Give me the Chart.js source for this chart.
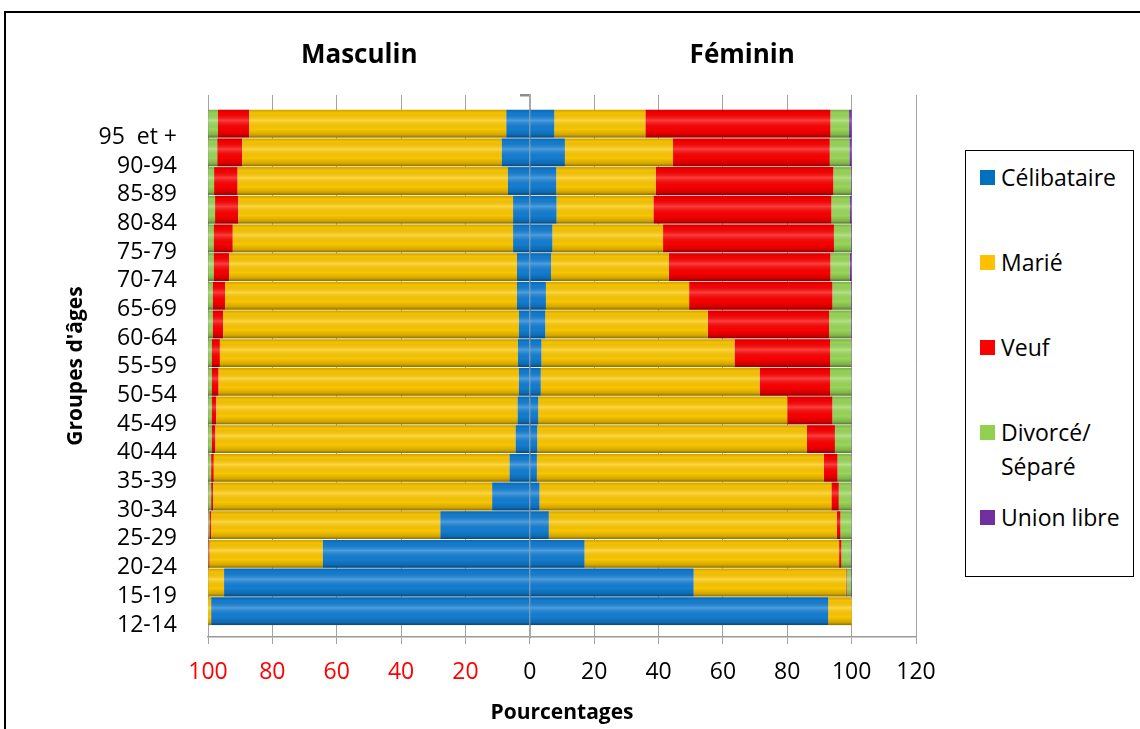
<!DOCTYPE html>
<html lang="fr">
<head>
<meta charset="utf-8">
<title>État matrimonial par groupes d'âges</title>
<script src="https://cdn.jsdelivr.net/npm/chart.js@4.4.1/dist/chart.umd.min.js"></script>
<style>
  html, body { margin: 0; padding: 0; background: #fff; }
  body { width: 1140px; height: 729px; position: relative; overflow: hidden; font-family: 'Open Sans', sans-serif; }
  #frame { position: absolute; left: 4px; top: 11px; width: 1160px; height: 800px; border: 2px solid #000; }
  #chart { position: absolute; left: 0; top: 0; }
  .legend { position: absolute; left: 965px; top: 150px; width: 167px; height: 425px; border: 1.5px solid #000; background: #fff; }
  .item { position: absolute; left: 14px; font-size: 23px; line-height: 34px; color: #000; white-space: nowrap; }
  .item i { position: absolute; left: 0; top: 10px; width: 15px; height: 15px; }
  .item span { display: block; margin-left: 21px; }
</style>
</head>
<body>
<div id="frame"></div>
<canvas id="chart" width="1140" height="729"></canvas>
<div class="legend">
  <div class="item" style="top:9px"><i style="background:#0070C0"></i><span>Célibataire</span></div>
  <div class="item" style="top:94px"><i style="background:#FFC000"></i><span>Marié</span></div>
  <div class="item" style="top:179px"><i style="background:#FF0000"></i><span>Veuf</span></div>
  <div class="item" style="top:264px"><i style="background:#92D050"></i><span>Divorcé/<br>Séparé</span></div>
  <div class="item" style="top:349px"><i style="background:#7030A0"></i><span>Union libre</span></div>
</div>
<script>
// groupes d'âges, du haut vers le bas
const ageGroups = ['95  et +', '90-94', '85-89', '80-84', '75-79', '70-74', '65-69', '60-64', '55-59',
  '50-54', '45-49', '40-44', '35-39', '30-34', '25-29', '20-24', '15-19', '12-14'];

const statusNames = ['Célibataire', 'Marié', 'Veuf', 'Divorcé/ Séparé', 'Union libre'];
const statusColors = ['#1380D6', '#FFCA00', '#FF0000', '#9CDA5A', '#7A38B0'];

// Masculin (%)
const maleCelib = [7.3, 8.7, 6.8, 5.2, 5.2, 4.0, 4.0, 3.4, 3.7, 3.4, 3.8, 4.4, 6.3, 11.7, 27.8, 64.3, 95.0, 99.0];
const maleMarie = [79.9, 80.7, 84.0, 85.4, 87.1, 89.4, 90.7, 91.9, 92.6, 93.3, 93.6, 93.3, 91.9, 86.7, 71.2, 35.2, 4.9, 1.0];
const maleVeuf = [9.7, 7.7, 7.3, 7.2, 5.9, 4.8, 3.8, 3.2, 2.5, 2.1, 1.4, 1.1, 0.8, 0.6, 0.5, 0.3, 0.05, 0];
const maleDiv = [3.0, 2.8, 1.8, 2.1, 1.7, 1.7, 1.4, 1.4, 1.1, 1.1, 1.1, 1.1, 0.9, 0.9, 0.4, 0.15, 0.03, 0];
const maleUnion = [0.1, 0.1, 0.1, 0.1, 0.1, 0.1, 0.1, 0.1, 0.1, 0.1, 0.1, 0.1, 0.1, 0.1, 0.1, 0.05, 0.02, 0];

// Féminin (%)
const femCelib = [7.6, 10.9, 8.2, 8.3, 7.0, 6.6, 5.0, 4.8, 3.6, 3.4, 2.6, 2.3, 2.2, 3.0, 5.9, 17.0, 50.9, 92.7];
const femMarie = [28.3, 33.6, 30.9, 30.1, 34.4, 36.6, 44.5, 50.5, 60.0, 68.0, 77.4, 83.8, 89.2, 90.7, 89.5, 79.1, 47.3, 7.3];
const femVeuf = [57.5, 48.7, 55.2, 55.3, 53.1, 50.2, 44.5, 37.7, 29.7, 21.9, 14.0, 8.7, 4.2, 2.3, 1.1, 0.7, 0.2, 0];
const femDiv = [5.8, 6.1, 5.5, 5.8, 5.3, 6.0, 5.8, 6.8, 6.6, 6.6, 5.9, 5.1, 4.3, 3.9, 3.4, 3.0, 1.4, 0];
const femUnion = [0.8, 0.7, 0.2, 0.5, 0.2, 0.6, 0.2, 0.2, 0.1, 0.1, 0.1, 0.1, 0.1, 0.1, 0.1, 0.2, 0.2, 0];

const xTicks = [-100, -80, -60, -40, -20, 0, 20, 40, 60, 80, 100, 120];

const maleValues = [maleCelib, maleMarie, maleVeuf, maleDiv, maleUnion];
const femValues = [femCelib, femMarie, femVeuf, femDiv, femUnion];

const datasets = [];
statusNames.forEach(function (name, s) {
    datasets.push({
        label: name + ' - Masculin',
        data: maleValues[s].map((v, i) => ({x: -v, y: i})),
        backgroundColor: statusColors[s],
        xAxisID: 'x',
        yAxisID: 'y'
    });
    datasets.push({
        label: name + ' - Féminin',
        data: femValues[s].map((v, i) => ({x: v, y: i})),
        backgroundColor: statusColors[s],
        xAxisID: 'x',
        yAxisID: 'y'
    });
});

// relief des barres (dégradé vertical comme dans Excel)
const barShade = {
    id: 'barShade',
    afterDatasetsDraw(chart) {
        const ctx = chart.ctx;
        ctx.save();
        chart.data.datasets.forEach(function (ds, di) {
            chart.getDatasetMeta(di).data.forEach(function (bar) {
                const p = bar.getProps(['x', 'y', 'base', 'height'], true);
                const w = Math.abs(p.x - p.base);
                if (w < 0.3) return;
                const top = p.y - p.height / 2;
                const g = ctx.createLinearGradient(0, top, 0, top + p.height);
                g.addColorStop(0, 'rgba(0,0,0,0.2)');
                g.addColorStop(0.12, 'rgba(0,0,0,0.04)');
                g.addColorStop(0.38, 'rgba(255,255,255,0.24)');
                g.addColorStop(0.7, 'rgba(0,0,0,0.02)');
                g.addColorStop(0.9, 'rgba(0,0,0,0.18)');
                g.addColorStop(1, 'rgba(0,0,0,0.45)');
                ctx.fillStyle = g;
                ctx.fillRect(Math.min(p.x, p.base), top, w, p.height);
            });
        });
        ctx.restore();
    }
};

const sideTitles = {
    id: 'sideTitles',
    afterDraw(chart) {
        const ctx = chart.ctx;
        const x = chart.scales.x;
        ctx.save();
        ctx.font = "bold 26px 'Open Sans'";
        ctx.fillStyle = '#000';
        ctx.textAlign = 'center';
        ctx.textBaseline = 'alphabetic';
        ctx.fillText('Masculin', x.getPixelForValue(-53), 63);
        ctx.fillText('Féminin', x.getPixelForValue(66), 63);
        ctx.restore();
    }
};

Chart.defaults.font.family = "'Open Sans', sans-serif";
Chart.defaults.color = '#000';

new Chart(document.getElementById('chart'), {
    type: 'bar',
    data: {datasets: datasets},
    plugins: [barShade, sideTitles],
    options: {
        indexAxis: 'y',
        responsive: false,
        animation: false,
        layout: {padding: {left: 60, top: 95, right: 224, bottom: 0}},
        datasets: {bar: {categoryPercentage: 0.97, barPercentage: 1}},
        plugins: {legend: {display: false}, tooltip: {enabled: false}},
        scales: {
            x: {
                type: 'linear',
                stacked: true,
                min: -100,
                max: 120,
                offset: false,
                afterBuildTicks: function (scale) {
                    scale.ticks = xTicks.map(v => ({value: v}));
                },
                ticks: {
                    callback: v => Math.abs(v),
                    color: c => c.tick.value < 0 ? '#FF0000' : '#000',
                    font: {size: 23},
                    padding: 15,
                    maxRotation: 0
                },
                grid: {color: '#a3a3a3', lineWidth: 1, tickLength: 7, offset: false},
                border: {color: '#9a9a9a', width: 1.5},
                title: {display: true, text: 'Pourcentages', font: {size: 21, weight: 'bold'}, padding: {top: 4, bottom: 3}},
                afterFit: function (scale) { scale.height = 92; }
            },
            y: {
                type: 'linear',
                stacked: true,
                reverse: true,
                offset: false,
                min: -1,
                max: 17.9,
                position: {x: 0},
                z: 1,
                afterBuildTicks: function (scale) {
                    scale.ticks = [-1].concat(ageGroups.map((g, i) => i)).map(v => ({value: v}));
                },
                ticks: {display: false},
                grid: {drawOnChartArea: false, tickLength: 9, color: '#8c8c8c', lineWidth: 2.5, offset: false},
                border: {color: '#a8a8a8', width: 2}
            },
            yLabels: {
                axis: 'y',
                type: 'linear',
                position: 'left',
                reverse: true,
                offset: false,
                min: -1,
                max: 17.9,
                afterBuildTicks: function (scale) {
                    scale.ticks = ageGroups.map((g, i) => ({value: i + 0.48}));
                },
                ticks: {
                    callback: (v, i) => ageGroups[i],
                    font: {size: 23},
                    padding: 31,
                    autoSkip: false
                },
                grid: {display: false, drawTicks: false, offset: false},
                border: {display: false},
                title: {display: true, text: "Groupes d'âges", font: {size: 21, weight: 'bold'}, padding: {top: 3}},
                afterFit: function (scale) { scale.width = 148; }
            }
        }
    }
});
</script>
</body>
</html>
